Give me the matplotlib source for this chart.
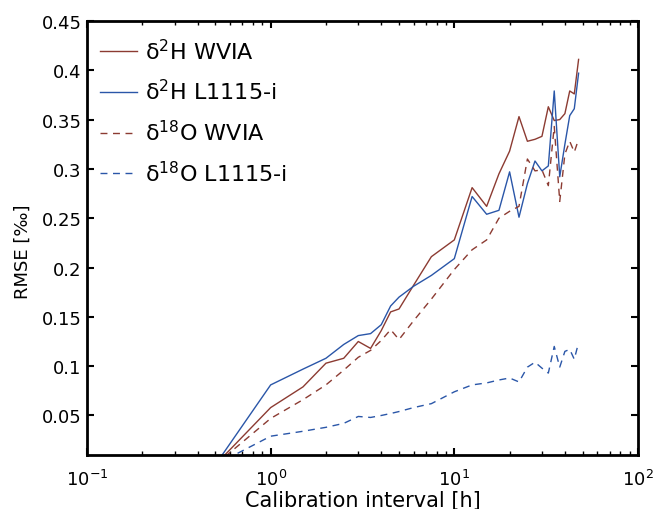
import matplotlib
matplotlib.use('Agg')
from matplotlib import pyplot as plt
from matplotlib.ticker import FuncFormatter, FixedLocator

plt.rcParams['font.family'] = ['DejaVu Sans']
plt.rcParams['mathtext.fontset'] = 'dejavusans'

# calibration interval [h]
interval = [0.5, 1, 1.5, 2, 2.5, 3, 3.5, 4, 4.5, 5, 6, 7.5, 10, 12.5, 15, 17.5,
            20, 22.5, 25, 27.5, 30, 32.5, 35, 37.5, 40, 42.5, 45, 47.5]
# RMSE [permil]
h2_wvia = [0, 0.058, 0.079, 0.103, 0.108, 0.125, 0.118, 0.136, 0.155, 0.158, 0.182, 0.211,
           0.228, 0.281, 0.262, 0.295, 0.318, 0.353, 0.328, 0.330, 0.333, 0.363, 0.349,
           0.350, 0.356, 0.379, 0.376, 0.411]
h2_l1115 = [0, 0.081, 0.097, 0.108, 0.122, 0.131, 0.133, 0.142, 0.161, 0.170, 0.181, 0.192,
            0.209, 0.272, 0.254, 0.258, 0.297, 0.251, 0.285, 0.308, 0.298, 0.303, 0.379,
            0.292, 0.325, 0.354, 0.361, 0.397]
o18_wvia = [0, 0.047, 0.066, 0.081, 0.096, 0.109, 0.116, 0.126, 0.137, 0.127, 0.146, 0.168,
            0.198, 0.218, 0.228, 0.250, 0.257, 0.262, 0.310, 0.298, 0.299, 0.283, 0.343,
            0.267, 0.315, 0.328, 0.317, 0.330]
o18_l1115 = [0, 0.029, 0.034, 0.038, 0.042, 0.049, 0.048, 0.050, 0.052, 0.054, 0.058, 0.062,
             0.074, 0.081, 0.083, 0.086, 0.088, 0.084, 0.099, 0.104, 0.098, 0.093, 0.120,
             0.099, 0.115, 0.117, 0.107, 0.124]
labels = ['δ$^{2}$H WVIA', 'δ$^{2}$H L1115-i', 'δ$^{18}$O WVIA', 'δ$^{18}$O L1115-i']
yticks = [0.05, 0.1, 0.15, 0.2, 0.25, 0.3, 0.35, 0.4, 0.45]

red = '#8c3b32'
blue = '#2a56a8'
dash = (0, (5, 4))

fig = plt.figure(figsize=(6.54, 5.10), dpi=100)
ax = fig.add_axes([0.133, 0.106, 0.8425, 0.851])
ax.plot(interval, h2_wvia, color=red, lw=1.0, label=labels[0])
ax.plot(interval, h2_l1115, color=blue, lw=1.0, label=labels[1])
ax.plot(interval, o18_wvia, color=red, lw=1.0, ls=dash, label=labels[2])
ax.plot(interval, o18_l1115, color=blue, lw=1.0, ls=dash, label=labels[3])

ax.set_xscale('log')
ax.set_xlim(0.1, 100)
ax.set_ylim(0.01, 0.45)
ax.yaxis.set_major_locator(FixedLocator(yticks))
ax.yaxis.set_major_formatter(FuncFormatter(lambda v, p: '%g' % v))
ax.tick_params(which='both', direction='in', top=True, right=True, labelsize=13)
ax.tick_params(axis='x', which='major', pad=10)
ax.tick_params(axis='y', which='major', pad=4)
ax.tick_params(which='major', length=5, width=1.5)
ax.tick_params(which='minor', length=3, width=1.0)
for s in ax.spines.values():
    s.set_linewidth(2)

ax.set_xlabel('Calibration interval [h]', fontsize=15, labelpad=1)
ax.set_ylabel('RMSE [‰]', fontsize=13)
ax.yaxis.set_label_coords(-0.1, 0.47)

ax.legend(loc='upper left', frameon=False, fontsize=16, handlelength=1.65,
          handletextpad=0.35, labelspacing=0.7, borderaxespad=0.0,
          bbox_to_anchor=(0.008, 0.982))

fig.savefig('out.png', dpi=100)
